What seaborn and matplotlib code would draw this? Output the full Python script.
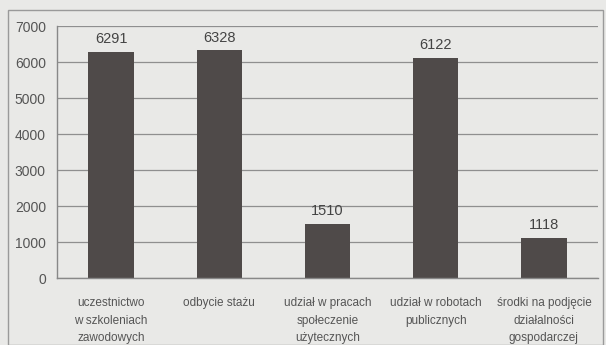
import matplotlib
matplotlib.use("Agg")
import matplotlib.pyplot as plt
import seaborn as sns
import pandas as pd
from matplotlib.patches import Rectangle

categories = ["uczestnictwo\nw szkoleniach\nzawodowych", "odbycie stażu",
              "udział w pracach\nspołeczenie\nużytecznych", "udział w robotach\npublicznych",
              "środki na podjęcie\ndziałalności\ngospodarczej"]
values = [6291, 6328, 1510, 6122, 1118]
yticks = [0, 1000, 2000, 3000, 4000, 5000, 6000, 7000]

sns.set_theme(style="white")
plt.rcParams['font.family'] = ['Liberation Sans', 'DejaVu Sans']

bg = "#e9e9e7"
fig = plt.figure(figsize=(6.06, 3.45), dpi=100, facecolor=bg)
ax = fig.add_axes([57/606, 1-278/345, (598-57)/606, (278-26)/345])
ax.set_facecolor(bg)

df = pd.DataFrame({"cat": categories, "val": values})
sns.barplot(data=df, x="cat", y="val", color="#4f4a49", width=0.42, ax=ax,
            saturation=1, linewidth=0, edgecolor="none")

for i, v in enumerate(values):
    ax.text(i, v + 150, str(v), ha="center", va="bottom", fontsize=10.5, color="#444444")

ax.set_ylim(0, 7000)
ax.set_yticks(yticks)
ax.set_yticklabels([str(t) for t in yticks], fontsize=10, color="#555555")
ax.yaxis.grid(True, color="#8f8f8f", linewidth=0.9)
ax.set_axisbelow(True)
ax.set_xlim(-0.5, 4.5)
ax.set_xticks([i - 0.5 for i in range(6)], minor=True)
ax.set_xticks(range(5))
ax.set_xticklabels(categories, fontsize=8.5, color="#555555", linespacing=1.6)
ax.tick_params(axis="x", which="major", length=0, pad=14)
ax.tick_params(axis="x", which="minor", length=4, color="#777777", direction="out")
ax.tick_params(axis="y", length=5, color="#777777", direction="out", pad=3)
ax.set_xlabel("")
ax.set_ylabel("")
for s in ["top", "right"]:
    ax.spines[s].set_visible(False)
for s in ["left", "bottom"]:
    ax.spines[s].set_color("#888888")
    ax.spines[s].set_linewidth(1.0)

fig.patches.append(Rectangle((8/606, 0), (603-8)/606, 1-10/345, transform=fig.transFigure,
                             fill=False, edgecolor="#9a9a9a", linewidth=1.0))

fig.savefig("out.png", dpi=100, facecolor=bg)
